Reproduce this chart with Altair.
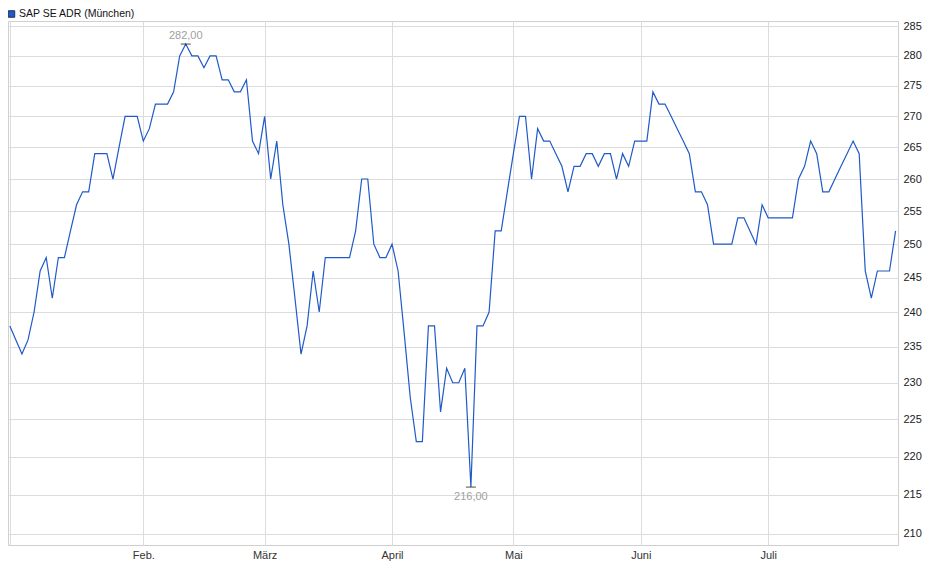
import altair as alt
import pandas as pd

# Closing prices, one per trading day (2 Jan .. 30 Jul)
values = [
    238, 236, 234, 236, 240, 246, 248, 242, 248, 248,
    252, 256, 258, 258, 264, 264, 264, 260, 265, 270,
    270, 270, 266, 268, 272, 272, 272, 274, 280, 282,
    280, 280, 278, 280, 280, 276, 276, 274, 274, 276,
    266, 264, 270, 260, 266, 256, 250, 242, 234, 238,
    246, 240, 248, 248, 248, 248, 248, 252, 260, 260,
    250, 248, 248, 250, 246, 237, 228, 222, 222, 238,
    238, 226, 232, 230, 230, 232, 216, 238, 238, 240,
    252, 252, 258, 264, 270, 270, 260, 268, 266, 266,
    264, 262, 258, 262, 262, 264, 264, 262, 264, 264,
    260, 264, 262, 266, 266, 266, 274, 272, 272, 270,
    268, 266, 264, 258, 258, 256, 250, 250, 250, 250,
    254, 254, 252, 250, 256, 254, 254, 254, 254, 254,
    260, 262, 266, 264, 258, 258, 260, 262, 264, 266,
    264, 246, 242, 246, 246, 246, 252,
]
month_idx = [22, 42, 63, 83, 104, 125]
month_labels = ["Feb.", "März", "April", "Mai", "Juni", "Juli"]
y_ticks = list(range(210, 290, 5))
series_name = "SAP SE ADR (München)"

LINE = "#1f5ac8"
FONT = "Liberation Sans"

df = pd.DataFrame({"idx": list(range(len(values))), "kurs": values})
vmax, vmin = max(values), min(values)
imax, imin = values.index(vmax), values.index(vmin)
ext = pd.DataFrame({
    "idx": [imax, imin],
    "kurs": [vmax, vmin],
    "label": [f"{vmax:.2f}".replace(".", ","), f"{vmin:.2f}".replace(".", ",")],
    "kind": ["max", "min"],
})
legend_df = pd.DataFrame({"name": [series_name]})

label_expr = " : ".join(
    f"datum.value == {i} ? '{l}'" for i, l in zip(month_idx, month_labels)
) + " : ''"

x_enc = alt.X(
    "idx:Q",
    scale=alt.Scale(domain=[-0.3, 146.4], nice=False, zero=False),
    axis=alt.Axis(
        values=[0] + month_idx, labelExpr=label_expr, title=None, grid=True,
        ticks=False, domain=False, labelPadding=4, labelFontSize=11,
        labelFont=FONT, labelColor="#333333", labelFlush=False,
    ),
)
y_enc = alt.Y(
    "kurs:Q",
    scale=alt.Scale(type="log", domain=[208.6, 285.94], nice=False, zero=False),
    axis=alt.Axis(
        orient="right", values=y_ticks, format="d", title=None, grid=True,
        ticks=False, domain=False, labelPadding=5, labelFontSize=11,
        labelFont=FONT, labelColor="#222222",
    ),
)

line = alt.Chart(df).mark_line(color=LINE, strokeWidth=1.2).encode(x=x_enc, y=y_enc)

ticks = alt.Chart(ext).mark_tick(
    orient="horizontal", size=10, thickness=1, color="black"
).encode(x=x_enc, y=y_enc)

max_lbl = alt.Chart(ext).transform_filter("datum.kind == 'max'").mark_text(
    dy=-8, fontSize=11, font=FONT, color="#a0a0a0"
).encode(x=x_enc, y=y_enc, text="label:N")

min_lbl = alt.Chart(ext).transform_filter("datum.kind == 'min'").mark_text(
    dy=10, fontSize=11, font=FONT, color="#a0a0a0"
).encode(x=x_enc, y=y_enc, text="label:N")

leg_sq = alt.Chart(legend_df).mark_square(
    size=42, fill=LINE, stroke="#1b2f66", strokeWidth=1, opacity=1
).encode(x=alt.value(3.5), y=alt.value(-7))

leg_txt = alt.Chart(legend_df).mark_text(
    align="left", baseline="middle", fontSize=10.5, font=FONT, color="#111111"
).encode(x=alt.value(11), y=alt.value(-7), text="name:N")

chart = alt.layer(line, ticks, max_lbl, min_lbl, leg_sq, leg_txt).properties(
    width=890,
    height=524,
    padding={"left": 0, "top": 13, "right": 30, "bottom": 20},
    autosize="none",
).configure_view(
    stroke="#cfcfcf", strokeWidth=1
).configure_axis(
    gridColor="#dcdcdc", gridWidth=1
)

chart.save("out.html", embed_options={"renderer": "svg", "actions": False})
